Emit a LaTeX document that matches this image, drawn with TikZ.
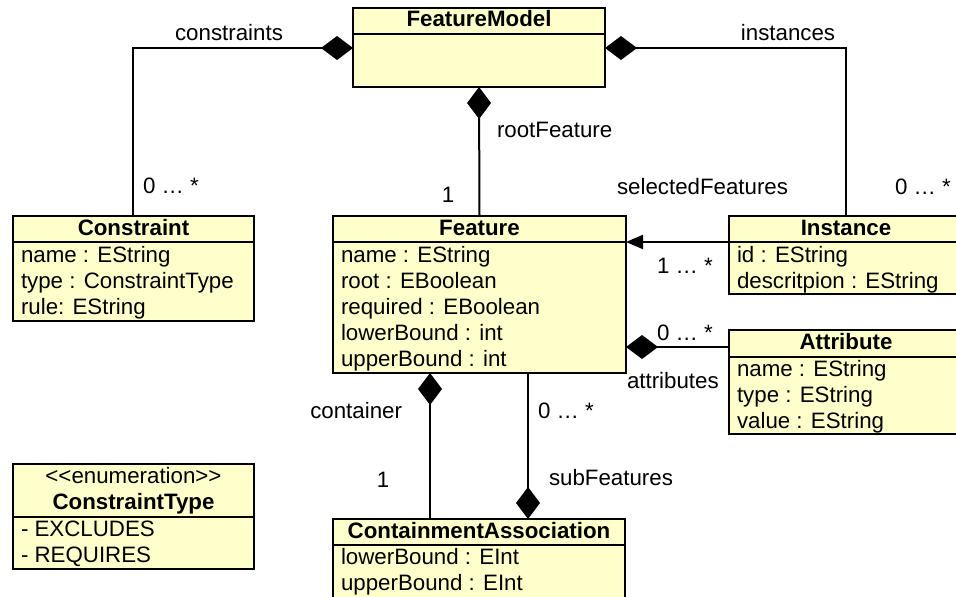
\documentclass[tikz,border=0pt]{standalone}
\usepackage{fontspec}
\setmainfont{Liberation Sans}
\usetikzlibrary{arrows.meta,calc}
\definecolor{umlfill}{HTML}{FFFFCC}
\begin{document}
\begin{tikzpicture}[x=1pt,y=-1pt,
  every node/.style={inner sep=0pt, outer sep=0pt, font=\fontsize{22.3}{26}\selectfont},
  umlbox/.style={draw=black, line width=2pt, fill=umlfill, rectangle, anchor=north west, inner sep=0pt},
  divider/.style={line width=2pt},
  title/.style={anchor=base, font=\fontsize{22.3}{26}\selectfont\bfseries},
  attr/.style={anchor=base west},
  lbl/.style={anchor=base west},
  lblc/.style={anchor=base},
  conn/.style={line width=2pt},
  comp/.style={conn, -{Diamond[length=32pt,width=24pt]}},
  nav/.style={conn, -{Triangle[length=17pt,width=14pt]}},
]
\useasboundingbox (0,0) rectangle (956,597);
\clip (0,0) rectangle (956,597);

% boxes
\node[umlbox, minimum width=252pt, minimum height=79pt] (fm) at (353,8) {};
\node[umlbox, minimum width=241pt, minimum height=105pt] (constraint) at (13,216) {};
\node[umlbox, minimum width=293pt, minimum height=157pt] (feature) at (333,216) {};
\node[umlbox, minimum width=234pt, minimum height=78pt] (instance) at (729,216) {};
\node[umlbox, minimum width=234pt, minimum height=104pt] (attribute) at (729,330) {};
\node[umlbox, minimum width=292pt, minimum height=82pt] (ca) at (333,519) {};
\node[umlbox, minimum width=241pt, minimum height=105pt] (ctype) at (13,464) {};

% dividers
\draw[divider] ($(fm.north west)+(0,26)$) -- ($(fm.north east)+(0,26)$);
\draw[divider] ($(constraint.north west)+(0,25.5)$) -- ($(constraint.north east)+(0,25.5)$);
\draw[divider] ($(feature.north west)+(0,26)$) -- ($(feature.north east)+(0,26)$);
\draw[divider] ($(instance.north west)+(0,26)$) -- ($(instance.north east)+(0,26)$);
\draw[divider] ($(attribute.north west)+(0,27)$) -- ($(attribute.north east)+(0,27)$);
\draw[divider] ($(ca.north west)+(0,26)$) -- ($(ca.north east)+(0,26)$);
\draw[divider] ($(ctype.north west)+(0,53)$) -- ($(ctype.north east)+(0,53)$);

% FeatureModel
\node[title] (fmt) at (479,27) {FeatureModel};

% Constraint
\node[title] (ct) at (133.5,235) {Constraint};
\node[attr] (ca1) at (21,262) {name : EString};
\node[attr] (ca2) at (21,288) {type : ConstraintType};
\node[attr] (ca3) at (21,314) {rule: EString};

% Feature
\node[title] (ft) at (479.5,235) {Feature};
\node[attr] (fa1) at (341,262) {name : EString};
\node[attr] (fa2) at (341,288) {root : EBoolean};
\node[attr] (fa3) at (341,314) {required : EBoolean};
\node[attr] (fa4) at (341,340) {lowerBound : int};
\node[attr] (fa5) at (341,366) {upperBound : int};

% Instance
\node[title] (it) at (846,235) {Instance};
\node[attr] (ia1) at (737,262) {id : EString};
\node[attr] (ia2) at (737,288) {descritpion : EString};

% Attribute
\node[title] (at) at (846,349) {Attribute};
\node[attr] (aa1) at (737,376) {name : EString};
\node[attr] (aa2) at (737,402) {type : EString};
\node[attr] (aa3) at (737,428) {value : EString};

% ContainmentAssociation
\node[title] (cat) at (479,538) {ContainmentAssociation};
\node[attr] (caa1) at (341,564) {lowerBound : EInt};
\node[attr] (caa2) at (341,590) {upperBound : EInt};

% ConstraintType
\node[lblc] (cst) at (133.5,483) {<\kern0pt<enumeration>\kern0pt>};
\node[title] (ctt) at (133.5,509) {ConstraintType};
\node[attr] (cta1) at (21,536) {- EXCLUDES};
\node[attr] (cta2) at (21,562) {- REQUIRES};

% connectors
\coordinate (cbend) at (133,48);
\coordinate (ibend) at (846,48);
\draw[comp] (constraint.north -| cbend) -- (cbend) -- (cbend -| fm.west);
\draw[comp] (instance.north) -- (instance.north |- ibend) -- (ibend -| fm.east);
\draw[comp] (feature.north) -- (fm.south);
\coordinate (selc) at ($(instance.north west)+(0,26)$);
\draw[nav] (selc) -- (selc -| feature.east);
\coordinate (attc) at ($(attribute.north west)+(0,17)$);
\draw[comp] (attc) -- (attc -| feature.east);
\coordinate (contc) at ($(ca.north west)+(97,0)$);
\draw[comp] (contc) -- (contc |- feature.south);
\coordinate (subc) at ($(ca.north west)+(195,0)$);
\draw[comp] (subc |- feature.south) -- (subc);

% labels
\node[lblc] (l1) at (229,40) {constraints};
\node[lblc] (l2) at (788,40) {instances};
\node[lbl] (l3) at (497,137) {rootFeature};
\node[lblc] (l4) at (448,202) {1};
\node[lbl] (l5) at (143,193) {0 … *};
\node[lbl] (l6) at (617,194) {selectedFeatures};
\node[lbl] (l7) at (895,194) {0 … *};
\node[lbl] (l8) at (657,273) {1 … *};
\node[lbl] (l9) at (657,340) {0 … *};
\node[lbl] (l10) at (627,388) {attributes};
\node[anchor=base east] (l11) at (402,418) {container};
\node[lbl] (l12) at (538,418) {0 … *};
\node[lblc] (l13) at (383,487) {1};
\node[lbl] (l14) at (549,485) {subFeatures};
\end{tikzpicture}
\end{document}
